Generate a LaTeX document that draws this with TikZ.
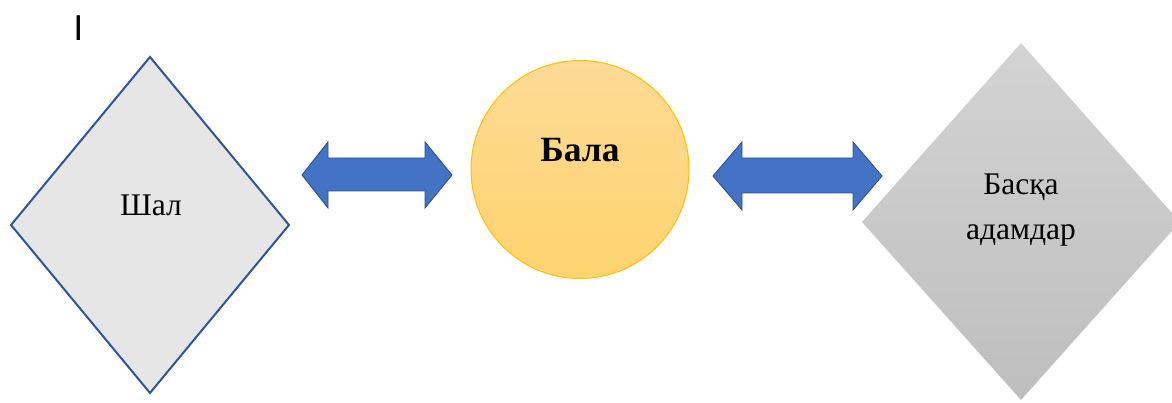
\documentclass[tikz,border=0pt]{standalone}
\usepackage{fontspec}
\setmainfont{Liberation Serif}
\newfontfamily\sansf{Liberation Sans}
\definecolor{dblue}{HTML}{2F5597}
\definecolor{lgray}{HTML}{E6E6E6}
\definecolor{arrfill}{HTML}{4472C4}
\definecolor{arrdraw}{HTML}{2F528F}
\definecolor{circtop}{HTML}{FDDA96}
\definecolor{circbot}{HTML}{FFD36E}
\definecolor{circline}{HTML}{FFC000}
\definecolor{dtop}{HTML}{D3D3D3}
\definecolor{dbot}{HTML}{BEBEBE}
\tikzset{
  bigarrow/.style={fill=arrfill, draw=arrdraw, line width=0.9pt, line join=miter},
  lbl/.style={anchor=base, inner sep=0pt, font=\fontsize{31.5}{38}\selectfont},
}
\begin{document}
\begin{tikzpicture}[x=1pt,y=-1pt]
\useasboundingbox (0,0) rectangle (1172,403);
\clip (0,0) rectangle (1172,403);
% stray mark
\node[anchor=base, inner sep=0pt, font=\sansf\fontsize{36}{40}\selectfont] (mark) at (78.5,41) {I};
% left diamond
\draw[line width=2pt, draw=dblue, fill=lgray, line join=miter]
  (150,57) -- (289,225) -- (150,393) -- (11,225) -- cycle;
\node[lbl] (shal) at (151,216) {Шал};
% circle
\draw[line width=1pt, draw=circline, top color=circtop, bottom color=circbot]
  (580,169.5) circle[radius=109pt];
\node[lbl, font=\bfseries\fontsize{35.5}{42}\selectfont] (bala) at (580,162) {Бала};
% right diamond
\shade[top color=dtop, bottom color=dbot]
  (1021,43) -- (1180,222) -- (1021,400) -- (862,222) -- cycle;
\node[lbl] (baska) at (1021,195) {Басқа};
\node[lbl] (adam) at (1021,240) {адамдар};
% arrows
\coordinate (a1l) at (302,175);
\coordinate (a1r) at (452,175);
\draw[bigarrow] (a1l) -- ++(26,-33) -- ++(0,16) -- ++(97,0) -- ++(0,-16) -- (a1r)
  -- ++(-27,33) -- ++(0,-17) -- ++(-97,0) -- ++(0,17) -- cycle;
\coordinate (a2l) at (713,176);
\coordinate (a2r) at (882,176);
\draw[bigarrow] (a2l) -- ++(29,-34) -- ++(0,16) -- ++(111,0) -- ++(0,-16) -- (a2r)
  -- ++(-29,34) -- ++(0,-17) -- ++(-111,0) -- ++(0,17) -- cycle;
\end{tikzpicture}
\end{document}
